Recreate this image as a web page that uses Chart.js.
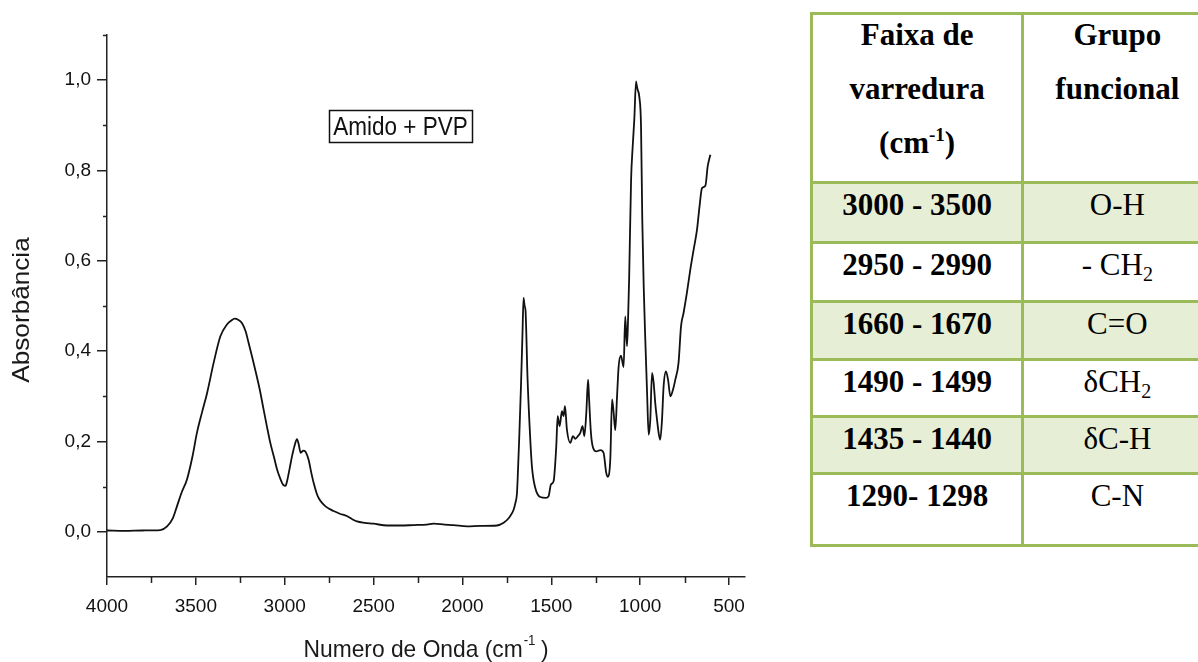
<!DOCTYPE html>
<html lang="pt">
<head>
<meta charset="utf-8">
<title>FTIR - Amido + PVP</title>
<script src="https://cdn.jsdelivr.net/npm/chart.js@4.4.1/dist/chart.umd.min.js"></script>
<style>
  html, body { margin: 0; padding: 0; background: #fff; width: 1198px; height: 662px; overflow: hidden; position: relative; }
  #spectrum { position: absolute; left: 0; top: 0; }
  table.bands {
    position: absolute; left: 810px; top: 12px; width: 403.5px;
    border-collapse: collapse; table-layout: fixed;
    font-family: "Liberation Serif", "Times New Roman", serif; font-size: 31px; color: #000;
  }
  table.bands td {
    border: 3.5px solid #9bbb59; padding: 0; text-align: center; vertical-align: top;
    line-height: 36px; padding-top: 3px; box-sizing: border-box;
  }
  table.bands td.range { font-weight: bold; }
  table.bands tr.shade td { background: #e6eed5; }
  table.bands th {
    border: 3.5px solid #9bbb59; font-weight: bold; vertical-align: top; padding: 0;
    line-height: 54px;
  }
  table.bands th div { margin-top: -7px; }
  table.bands sup { font-size: 19px; line-height: 0; vertical-align: 12px; }
  table.bands sub { font-size: 20px; line-height: 0; vertical-align: -6px; }
</style>
</head>
<body>
<canvas id="spectrum" width="800" height="662"></canvas>
<table class="bands" id="bands"></table>
<script>
// FTIR spectrum, Amido + PVP film
const wavenumber = [
  4000, 3900, 3800, 3700, 3662, 3630, 3606, 3580, 3550, 3520, 3494, 3465, 3437, 3400, 3362, 3325,
  3300, 3282, 3260, 3240, 3220, 3203, 3185, 3166, 3140, 3119, 3100, 3081, 3060, 3043, 3025, 3006,
  2995, 2987, 2970, 2959, 2945, 2931, 2922, 2910, 2895, 2884, 2866, 2850, 2837, 2820, 2809, 2790,
  2772, 2750, 2725, 2690, 2650, 2620, 2593, 2550, 2500, 2424, 2350, 2275, 2200, 2162, 2100, 2050,
  1974, 1900, 1806, 1768, 1740, 1731, 1712, 1702, 1693, 1687, 1680, 1670, 1662, 1656, 1650, 1645,
  1634, 1622, 1609, 1590, 1562, 1530, 1515, 1502, 1487, 1472, 1464, 1453, 1440, 1431, 1423, 1412,
  1393, 1378, 1365, 1350, 1337, 1324, 1314, 1303, 1293, 1288, 1277, 1265, 1247, 1224, 1206, 1191,
  1183, 1168, 1158, 1149, 1140, 1130, 1121, 1108, 1093, 1084, 1074, 1068, 1062, 1051, 1042, 1033,
  1023, 1020, 1014, 1005, 995, 988, 980, 971, 961, 952, 943, 933, 924, 915, 905, 896,
  887, 877, 868, 855, 843, 830, 815, 802, 784, 770, 756, 737, 718, 699, 680, 666,
  652, 633, 620, 605
];
const absorbance = [
  0.003, 0.002, 0.003, 0.004, 0.012, 0.030, 0.057, 0.087, 0.116, 0.165, 0.219, 0.265, 0.307, 0.374, 0.433, 0.459,
  0.468, 0.472, 0.469, 0.462, 0.444, 0.418, 0.390, 0.359, 0.314, 0.271, 0.233, 0.197, 0.165, 0.138, 0.118, 0.103,
  0.102, 0.112, 0.145, 0.167, 0.190, 0.205, 0.195, 0.175, 0.180, 0.178, 0.160, 0.130, 0.108, 0.085, 0.075, 0.064,
  0.057, 0.051, 0.046, 0.040, 0.035, 0.028, 0.023, 0.020, 0.018, 0.014, 0.014, 0.015, 0.016, 0.018, 0.016, 0.015,
  0.012, 0.013, 0.014, 0.020, 0.030, 0.035, 0.049, 0.064, 0.086, 0.140, 0.212, 0.330, 0.440, 0.518, 0.500, 0.490,
  0.344, 0.234, 0.145, 0.097, 0.077, 0.075, 0.079, 0.105, 0.112, 0.189, 0.256, 0.234, 0.267, 0.256, 0.278, 0.226,
  0.197, 0.212, 0.206, 0.212, 0.219, 0.234, 0.212, 0.263, 0.337, 0.300, 0.219, 0.186, 0.178, 0.181, 0.175, 0.131,
  0.122, 0.160, 0.293, 0.263, 0.225, 0.300, 0.366, 0.390, 0.365, 0.477, 0.411, 0.470, 0.560, 0.779, 0.853, 0.912,
  0.997, 0.990, 0.979, 0.964, 0.897, 0.691, 0.543, 0.425, 0.308, 0.215, 0.248, 0.352, 0.330, 0.285, 0.248, 0.219,
  0.204, 0.248, 0.322, 0.355, 0.337, 0.300, 0.315, 0.337, 0.374, 0.455, 0.484, 0.529, 0.580, 0.625, 0.669, 0.720,
  0.761, 0.766, 0.809, 0.835
];

const xMajorTicks = [4000, 3500, 3000, 2500, 2000, 1500, 1000, 500];
const xMinorTicks = [3750, 3250, 2750, 2250, 1750, 1250, 750];
const yMajorTicks = [0, 0.2, 0.4, 0.6, 0.8, 1.0];
const yMinorTicks = [0.1, 0.3, 0.5, 0.7, 0.9, 1.1];

const seriesLabel = 'Amido + PVP';
const xTitle = ['Numero de Onda (cm', '-1', ' )'];
const yTitle = 'Absorbância';

// band assignment table
const headRange = ['Faixa de', 'varredura', '(cm<sup>-1</sup>)'];
const headGroup = ['Grupo', 'funcional'];
const bandRanges = ['3000 - 3500', '2950 - 2990', '1660 - 1670', '1490 - 1499', '1435 - 1440', '1290- 1298'];
const bandGroups = ['O-H', '- CH<sub>2</sub>', 'C=O', '&delta;CH<sub>2</sub>', '&delta;C-H', 'C-N'];
const rowHeights = [60, 59, 57.5, 57, 57.5, 71.5];

function buildTable() {
  const t = document.getElementById('bands');
  let html = '<colgroup><col style="width:211px"><col style="width:189px"></colgroup>';
  html += '<tr style="height:169px"><th><div>' + headRange.join('<br>') + '</div></th>'
        + '<th><div>' + headGroup.join('<br>') + '</div></th></tr>';
  bandRanges.forEach((r, i) => {
    const cls = i % 2 === 0 ? ' class="shade"' : '';
    html += '<tr' + cls + ' style="height:' + rowHeights[i] + 'px"><td class="range">' + r + '</td><td>' + bandGroups[i] + '</td></tr>';
  });
  t.innerHTML = html;
}
buildTable();

// minor ticks, axis titles and the series label box
const decorations = {
  id: 'decorations',
  afterDraw(chart) {
    const ctx = chart.ctx;
    const xs = chart.scales.x, ys = chart.scales.y;
    ctx.save();
    ctx.strokeStyle = '#222';
    ctx.lineWidth = 1.5;
    ctx.beginPath();
    xMinorTicks.forEach(v => {
      const px = Math.round(xs.getPixelForValue(v)) + 0.5;
      ctx.moveTo(px, xs.top);
      ctx.lineTo(px, xs.top + 6);
    });
    yMinorTicks.forEach(v => {
      const py = Math.round(ys.getPixelForValue(v)) + 0.5;
      ctx.moveTo(ys.right, py);
      ctx.lineTo(ys.right - 4, py);
    });
    ctx.stroke();

    ctx.fillStyle = '#1a1a1a';
    // y title
    ctx.save();
    ctx.translate(29, (chart.chartArea.top + chart.chartArea.bottom) / 2 + 4);
    ctx.rotate(-Math.PI / 2);
    ctx.scale(1.09, 1);
    ctx.font = '24px "Liberation Sans", Arial, sans-serif';
    ctx.textAlign = 'center';
    ctx.textBaseline = 'alphabetic';
    ctx.fillText(yTitle, 0, 0);
    ctx.restore();

    // x title with superscript
    ctx.save();
    const big = '24px "Liberation Sans", Arial, sans-serif';
    const small = '14px "Liberation Sans", Arial, sans-serif';
    ctx.font = big;
    const w0 = ctx.measureText(xTitle[0]).width;
    const w2 = ctx.measureText(xTitle[2]).width;
    ctx.font = small;
    const w1 = ctx.measureText(xTitle[1]).width;
    const sx = 0.95;
    const cx = (chart.chartArea.left + chart.chartArea.right) / 2;
    ctx.translate(cx - (w0 + w1 + w2) * sx / 2, 657);
    ctx.scale(sx, 1);
    ctx.textAlign = 'left';
    ctx.textBaseline = 'alphabetic';
    ctx.font = big;
    ctx.fillText(xTitle[0], 0, 0);
    ctx.font = small;
    ctx.fillText(xTitle[1], w0 + 1, -12);
    ctx.font = big;
    ctx.fillText(xTitle[2], w0 + w1, 0);
    ctx.restore();

    // label box
    ctx.save();
    ctx.strokeStyle = '#111';
    ctx.lineWidth = 1.5;
    ctx.strokeRect(329.5, 110.5, 143, 32);
    ctx.translate(400.5, 135);
    ctx.scale(0.9, 1);
    ctx.font = '25px "Liberation Sans", Arial, sans-serif';
    ctx.textAlign = 'center';
    ctx.textBaseline = 'alphabetic';
    ctx.fillStyle = '#111';
    ctx.fillText(seriesLabel, 0, 0);
    ctx.restore();

    ctx.restore();
  }
};

const points = wavenumber.map((w, i) => ({ x: w, y: absorbance[i] }));
const tickFont = { family: '"Liberation Sans", Arial, sans-serif', size: 19 };

new Chart(document.getElementById('spectrum'), {
  type: 'line',
  data: {
    datasets: [{
      label: seriesLabel,
      data: points,
      borderColor: '#111',
      borderWidth: 1.8,
      pointRadius: 0,
      cubicInterpolationMode: 'monotone',
      fill: false
    }]
  },
  options: {
    responsive: false,
    animation: false,
    events: [],
    layout: { padding: { top: 35, right: 55, left: 0, bottom: 0 } },
    plugins: { legend: { display: false }, tooltip: { enabled: false } },
    scales: {
      x: {
        type: 'linear',
        reverse: true,
        min: 410,
        max: 4000,
        afterBuildTicks: s => { s.ticks = xMajorTicks.map(v => ({ value: v })); },
        afterFit: s => { s.height = 85; },
        grid: { drawOnChartArea: false, drawTicks: true, tickLength: 8, color: '#222', lineWidth: 1.5 },
        border: { display: true, color: '#222', width: 1.5 },
        ticks: { font: tickFont, color: '#111', padding: 10, maxRotation: 0, callback: v => String(v) }
      },
      y: {
        type: 'linear',
        min: -0.1,
        max: 1.1,
        afterBuildTicks: s => { s.ticks = yMajorTicks.map(v => ({ value: v })); },
        afterFit: s => { s.width = 107; },
        grid: { drawOnChartArea: false, drawTicks: true, tickLength: 10, color: '#222', lineWidth: 1.5 },
        border: { display: true, color: '#222', width: 1.5 },
        ticks: { font: tickFont, color: '#111', padding: 6, callback: v => v.toFixed(1).replace('.', ',') }
      }
    }
  },
  plugins: [decorations]
});
</script>
</body>
</html>
